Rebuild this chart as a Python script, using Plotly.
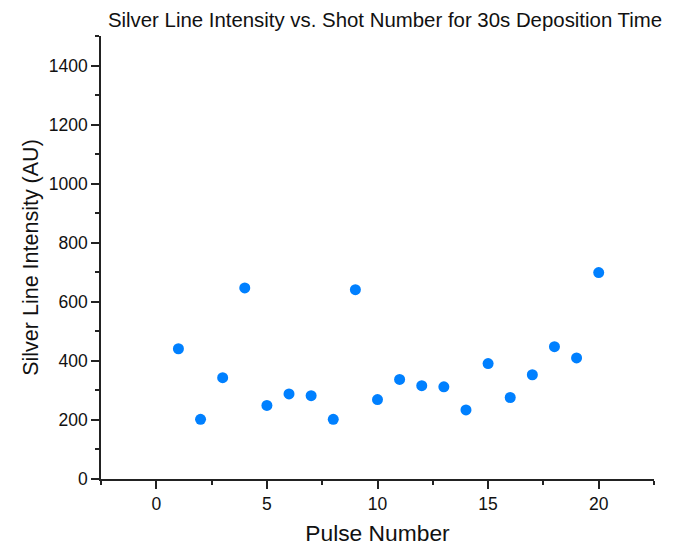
import plotly.graph_objects as go

pulse_number = [1, 2, 3, 4, 5, 6, 7, 8, 9, 10, 11, 12, 13, 14, 15, 16, 17, 18, 19, 20]
intensity = [441, 202, 343, 647, 249, 288, 282, 202, 641, 269, 337, 316, 312, 234, 391, 276, 353, 448, 410, 699]

title_text = "Silver Line Intensity vs. Shot Number for 30s Deposition Time"
x_title = "Pulse Number"
y_title = "Silver Line Intensity (AU)"

FONT = "Liberation Sans, Arial, sans-serif"
INK = "#111111"

# The page body adds an 8px margin, so the figure is 8px smaller than the window
W, H = 673, 540

fig = go.Figure()
fig.add_trace(go.Scatter(
    x=pulse_number, y=intensity, mode="markers",
    marker=dict(color="#0080ff", size=11, line=dict(width=0)),
    showlegend=False,
))

axis_common = dict(
    showgrid=False, zeroline=False, showline=True, automargin=False,
    linecolor="#222222", linewidth=1.5,
    ticks="outside", ticklen=8, tickwidth=1.5, tickcolor="#222222",
    tickfont=dict(family=FONT, size=17.5, color=INK),
    mirror=False,
)

fig.update_xaxes(
    range=[-2.5, 22.5], dtick=5, tick0=0,
    minor=dict(dtick=2.5, ticklen=4, tickwidth=1.5, tickcolor="#222222", ticks="outside", showgrid=False),
    title=dict(text=x_title, font=dict(family=FONT, size=22.8, color=INK), standoff=12),
    **axis_common,
)
fig.update_yaxes(
    range=[0, 1500], dtick=200, tick0=0,
    minor=dict(dtick=100, ticklen=4, tickwidth=1.5, tickcolor="#222222", ticks="outside", showgrid=False),
    title=dict(text=y_title, font=dict(family=FONT, size=21.5, color=INK), standoff=4),
    **axis_common,
)

fig.update_layout(
    width=W, height=H,
    margin=dict(l=93, r=27, t=28, b=69),
    paper_bgcolor="white", plot_bgcolor="white",
    title=dict(text=title_text, x=377/W, xanchor="center", xref="container",
               y=1 - 12/H, yanchor="middle", automargin=False,
               font=dict(family=FONT, size=20.4, color=INK)),
)

fig.write_html("out.html")
